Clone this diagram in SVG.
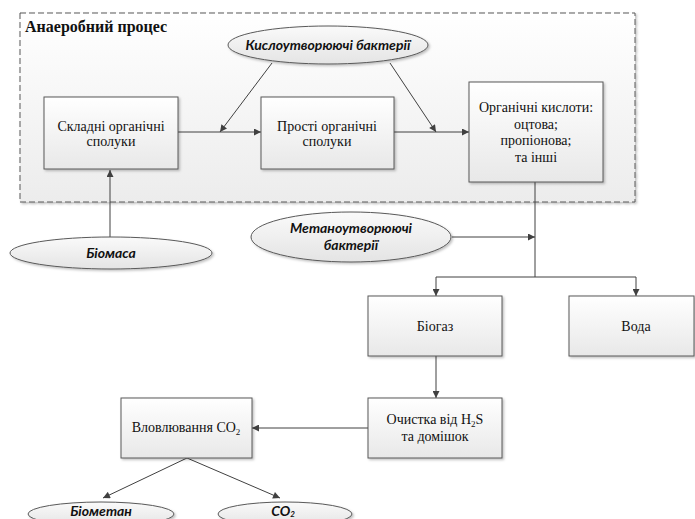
<svg xmlns="http://www.w3.org/2000/svg" width="695" height="519" viewBox="0 0 695 519">
<defs>
<linearGradient id="gBox" x1="0" y1="0" x2="0" y2="1"><stop offset="0" stop-color="#ffffff"/><stop offset="1" stop-color="#e8e8e8"/></linearGradient>
<linearGradient id="gCont" x1="0" y1="0" x2="0" y2="1"><stop offset="0" stop-color="#ffffff"/><stop offset="1" stop-color="#ececec"/></linearGradient>
<linearGradient id="gEll" x1="0" y1="0" x2="0" y2="1"><stop offset="0" stop-color="#fafafa"/><stop offset="1" stop-color="#e4e4e4"/></linearGradient>
<filter id="sh" x="-10%" y="-10%" width="130%" height="130%"><feDropShadow dx="1.5" dy="1.5" stdDeviation="1" flood-color="#000" flood-opacity="0.25"/></filter>
<marker id="arr" viewBox="0 0 10 10" refX="10" refY="5" markerWidth="9" markerHeight="7" markerUnits="userSpaceOnUse" orient="auto"><path d="M0,0 L10,5 L0,10 z" fill="#404040"/></marker>
</defs>
<style>
.box{fill:url(#gBox);stroke:#595959;stroke-width:1;filter:url(#sh)}
.ell{fill:url(#gEll);stroke:#595959;stroke-width:1;filter:url(#sh)}
.t{font-family:'Liberation Serif','DejaVu Serif',serif;font-size:14px;fill:#111;text-anchor:middle}
.e{font-family:Lato,'Open Sans',sans-serif;font-size:14px;font-weight:bold;font-style:italic;fill:#111;text-anchor:middle}
.c{fill:none;stroke:#404040;stroke-width:1}
.title{font-family:'Liberation Serif','DejaVu Serif',serif;font-size:16px;font-weight:bold;fill:#111}
</style>
<rect width="695" height="519" fill="#ffffff"/>
<g id="container">
<rect x="20" y="13" width="615" height="189" fill="url(#gCont)" stroke="#595959" stroke-width="1" stroke-dasharray="6,3" filter="url(#sh)"/>
<text class="title" x="25" y="32">Анаеробний процес</text>
</g>
<g id="connectors">
<path class="c" d="M178,132 H261" marker-end="url(#arr)"/>
<path class="c" d="M394,132 H469" marker-end="url(#arr)"/>
<path class="c" d="M272,63 L220,132" marker-end="url(#arr)"/>
<path class="c" d="M390,63 L436,132" marker-end="url(#arr)"/>
<path class="c" d="M110,237 V170" marker-end="url(#arr)"/>
<path class="c" d="M535,182 V277"/>
<path class="c" d="M452,237 H535" marker-end="url(#arr)"/>
<path class="c" d="M436,277 H636"/>
<path class="c" d="M436,277 V296" marker-end="url(#arr)"/>
<path class="c" d="M636,277 V296" marker-end="url(#arr)"/>
<path class="c" d="M436,356 V398" marker-end="url(#arr)"/>
<path class="c" d="M368,428 H252" marker-end="url(#arr)"/>
<path class="c" d="M187,458 L103,498" marker-end="url(#arr)"/>
<path class="c" d="M187,458 L280,498" marker-end="url(#arr)"/>
</g>
<g id="n-acid-bacteria">
<ellipse class="ell" cx="328" cy="45" rx="100" ry="19"/>
<text class="e" x="328" y="50">Кислоутворюючі бактерії</text>
</g>
<g id="n-complex">
<rect class="box" x="44" y="97" width="134" height="72"/>
<text class="t" x="111" y="131">Складні органічні</text>
<text class="t" x="111" y="146">сполуки</text>
</g>
<g id="n-simple">
<rect class="box" x="261" y="97" width="133" height="72"/>
<text class="t" x="327" y="131">Прості органічні</text>
<text class="t" x="327" y="146">сполуки</text>
</g>
<g id="n-acids">
<rect class="box" x="469" y="82" width="134" height="100"/>
<text class="t" x="536" y="112">Органічні кислоти:</text>
<text class="t" x="536" y="129">оцтова;</text>
<text class="t" x="536" y="145">пропіонова;</text>
<text class="t" x="536" y="162">та інші</text>
</g>
<g id="n-biomass">
<ellipse class="ell" cx="111" cy="253" rx="101" ry="16"/>
<text class="e" x="111" y="258">Біомаса</text>
</g>
<g id="n-methane-bacteria">
<ellipse class="ell" cx="351" cy="237" rx="100" ry="25"/>
<text class="e" x="351" y="233">Метаноутворюючі</text>
<text class="e" x="351" y="250">бактерії</text>
</g>
<g id="n-biogas">
<rect class="box" x="368" y="296" width="134" height="60"/>
<text class="t" x="435" y="331">Біогаз</text>
</g>
<g id="n-water">
<rect class="box" x="569" y="296" width="125" height="60"/>
<text class="t" x="636" y="331">Вода</text>
</g>
<g id="n-cleaning">
<rect class="box" x="368" y="398" width="134" height="60"/>
<text class="t" x="435" y="424">Очистка від H<tspan font-size="9" dy="3">2</tspan><tspan dy="-3">S</tspan></text>
<text class="t" x="435" y="441">та домішок</text>
</g>
<g id="n-capture">
<rect class="box" x="121" y="398" width="131" height="60"/>
<text class="t" x="186" y="432">Вловлювання CO<tspan font-size="9" dy="3">2</tspan></text>
</g>
<g id="n-biomethane">
<ellipse class="ell" cx="101" cy="514" rx="73" ry="12"/>
<text class="e" x="101" y="516">Біометан</text>
</g>
<g id="n-co2">
<ellipse class="ell" cx="285" cy="514" rx="67" ry="12"/>
<text class="e" x="283" y="516">CO<tspan font-size="8" dy="1">2</tspan></text>
</g>
</svg>
